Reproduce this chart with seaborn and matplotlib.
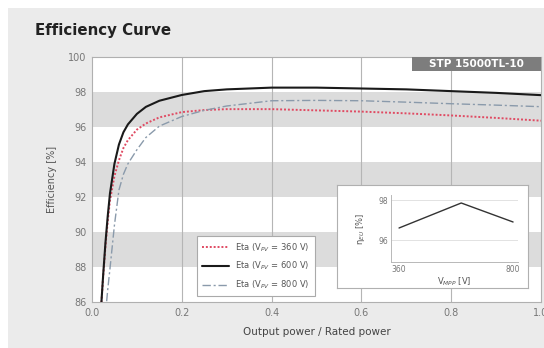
import numpy as np
import pandas as pd
import matplotlib
matplotlib.use("Agg")
import matplotlib.pyplot as plt
from matplotlib.patches import Rectangle
import seaborn as sns

# ---- data ----
power_ratio = [0.015, 0.02, 0.025, 0.03, 0.035, 0.04, 0.05, 0.06, 0.07, 0.08, 0.10, 0.12,
               0.15, 0.20, 0.25, 0.30, 0.40, 0.50, 0.60, 0.70, 0.80, 0.90, 1.00]
eta_360 = [83.0, 85.6, 87.5, 89.2, 90.6, 91.8, 93.2, 94.1, 94.8, 95.25, 95.85, 96.2,
           96.55, 96.85, 96.97, 97.02, 97.02, 96.95, 96.88, 96.78, 96.66, 96.52, 96.36]
eta_600 = [83.0, 85.6, 87.6, 89.4, 90.9, 92.2, 93.9, 95.0, 95.7, 96.15, 96.75, 97.15,
           97.5, 97.83, 98.05, 98.15, 98.25, 98.25, 98.2, 98.15, 98.05, 97.95, 97.82]
eta_800 = [79.0, 81.5, 83.6, 85.3, 86.7, 87.9, 90.4, 92.4, 93.3, 93.9, 94.7, 95.4,
           96.05, 96.6, 96.95, 97.2, 97.5, 97.52, 97.5, 97.42, 97.33, 97.25, 97.16]
series_labels = ["Eta (V$_{PV}$ = 360 V)", "Eta (V$_{PV}$ = 600 V)", "Eta (V$_{PV}$ = 800 V)"]

inset_v = [360, 600, 800]
inset_eta = [96.6, 97.85, 96.9]

y_ticks = [86, 88, 90, 92, 94, 96, 98, 100]
x_ticks = [0.0, 0.2, 0.4, 0.6, 0.8, 1.0]

sns.set_style("white")
plt.rcParams['font.family'] = ['DejaVu Sans']

W, H = 544, 348
fig = plt.figure(figsize=(W / 100, H / 100), dpi=100, facecolor="white")

def fx(px):
    return px / W

def fy(py):
    return 1 - py / H

# gray panel background
fig.patches.append(Rectangle((fx(8), 0), 1 - fx(8), fy(8), transform=fig.transFigure,
                             facecolor="#ebebeb", edgecolor="none", zorder=-5))

ax_l, ax_r, ax_t, ax_b = 92, 541, 57, 302
ax = fig.add_axes([fx(ax_l), fy(ax_b), fx(ax_r - ax_l), (ax_b - ax_t) / H])
ax.set_zorder(1)
ax.set_facecolor("white")

for lo in [88, 92, 96]:
    ax.axhspan(lo, lo + 2, color="#dcdcdc", lw=0, zorder=0)
for xv in [0.2, 0.4, 0.6, 0.8]:
    ax.axvline(xv, color="#b5b5b5", lw=0.8, zorder=0.5)

sns.lineplot(x=power_ratio, y=eta_360, ax=ax, color="#e04a62", lw=1.4,
             linestyle=(0, (1, 1)), label=series_labels[0], zorder=3)
sns.lineplot(x=power_ratio, y=eta_600, ax=ax, color="#1a1a1a", lw=1.5,
             linestyle="-", label=series_labels[1], zorder=4)
sns.lineplot(x=power_ratio, y=eta_800, ax=ax, color="#8a9aab", lw=1.0,
             linestyle=(0, (6, 2, 1.5, 2)), label=series_labels[2], zorder=3)

ax.set_xlim(0, 1.0)
ax.set_ylim(86, 100)
ax.set_xticks(x_ticks)
ax.set_xticklabels([f"{v:.1f}" for v in x_ticks])
ax.set_yticks(y_ticks)
ax.tick_params(axis="both", labelsize=7, colors="#777777", length=2, width=0.6, pad=2)
ax.tick_params(axis="x", pad=4, length=0)
for sp in ax.spines.values():
    sp.set_color("#b0b0b0")
    sp.set_linewidth(0.8)
ax.set_xlabel("Output power / Rated power", fontsize=7.5, color="#444444", labelpad=7)
ax.set_ylabel("Efficiency [%]", fontsize=7, color="#555555", labelpad=8)

leg = ax.legend(loc="upper left", bbox_to_anchor=(fx(197), fy(236)), bbox_transform=fig.transFigure,
                fontsize=6, frameon=True, fancybox=False, framealpha=1, edgecolor="#aaaaaa",
                handlelength=3.2, labelspacing=0.75, borderpad=0.6, handletextpad=0.8,
                borderaxespad=0)
for t in leg.get_texts():
    t.set_color("#555555")
leg.get_frame().set_linewidth(0.8)
leg.set_zorder(10)

# product label box
bx0 = (412 - ax_l) / (ax_r - ax_l)
bh = 14 / (ax_b - ax_t)
ax.add_patch(Rectangle((bx0, 1 - bh), 1 - bx0, bh, transform=ax.transAxes,
                       facecolor="#7d7d7d", edgecolor="none", zorder=8, clip_on=False))
ax.text((bx0 + 1) / 2, 1 - bh / 2, "STP 15000TL-10", transform=ax.transAxes, ha="center",
        va="center", color="white", fontsize=7.5, fontweight="bold", zorder=9)

# title
fig.text(fx(35), fy(35), "Efficiency Curve", fontsize=10.8, fontweight="bold",
         color="#222222", ha="left", va="baseline")

# inset frame
frame = fig.add_axes([fx(337), fy(288), fx(528 - 337), (288 - 185) / H])
frame.set_facecolor("white")
frame.set_xticks([])
frame.set_yticks([])
for sp in frame.spines.values():
    sp.set_color("#b0b0b0")
    sp.set_linewidth(0.8)
frame.set_zorder(5)

ins = fig.add_axes([fx(391), fy(262), fx(518 - 391), (262 - 195) / H])
ins.set_zorder(6)
ins.set_facecolor("white")
sns.lineplot(x=inset_v, y=inset_eta, ax=ins, color="#333333", lw=1.0)
ins.set_xlim(329, 819)
ins.set_ylim(94.9, 98.25)
ins.set_xticks([360, 800])
ins.set_yticks([96, 98])
ins.grid(axis="y", color="#dddddd", lw=0.6)
for s in ["top", "right"]:
    ins.spines[s].set_visible(False)
for s in ["left", "bottom"]:
    ins.spines[s].set_color("#b8b8b8")
    ins.spines[s].set_linewidth(0.7)
ins.tick_params(axis="both", labelsize=5.5, colors="#777777", length=0, pad=2)
ins.set_xlabel("V$_{MPP}$ [V]", fontsize=6, color="#555555", labelpad=1)
ins.set_ylabel("η$_{EU}$ [%]", fontsize=6, color="#555555", labelpad=8)

fig.savefig("out.png", dpi=100, facecolor=fig.get_facecolor())
